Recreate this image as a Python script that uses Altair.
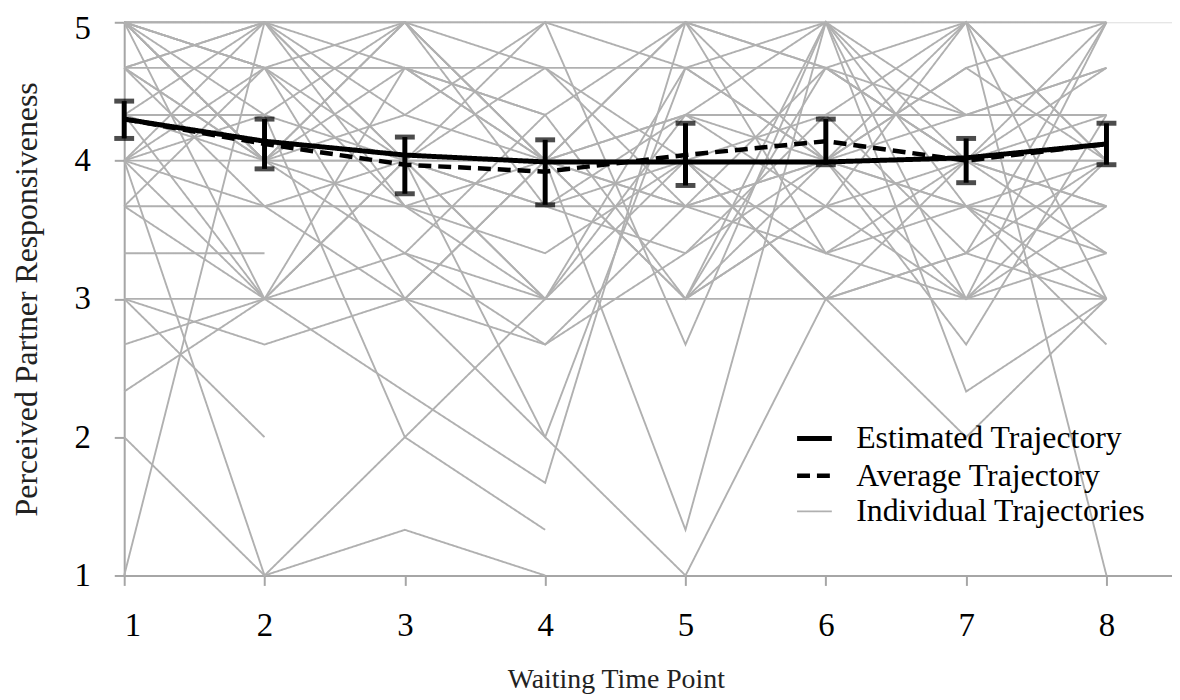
import altair as alt
import pandas as pd

# ---------------- data ----------------
time_points = [1, 2, 3, 4, 5, 6, 7, 8]

estimated = [4.30, 4.14, 4.04, 3.99, 3.99, 3.99, 4.02, 4.12]
average = [4.30, 4.12, 3.97, 3.92, 4.04, 4.14, 4.00, 4.12]
err_lo = [4.16, 3.94, 3.76, 3.68, 3.82, 3.97, 3.84, 3.97]
err_hi = [4.43, 4.30, 4.17, 4.15, 4.27, 4.30, 4.16, 4.27]

N = None
individuals = [
    [5, 5, 5, 5, 5, 5, 5, 5],
    [4, 4, 4, 4, 4, 4, 4, 4],
    [3, 3, 3, 3, 3, 3, 3, 3],
    [3.67, 3.67, 3.67, 3.67, 3.67, 3.67, 3.67, 3.67],
    [4.67, 4.67, 4.67, 4.67, 4.67, 4.67, 4.33, 4.33],
    [1, 5, 5, 4, 5, 4.67, 5, 1],
    [2, 1, 1.33, 1, N, N, N, N],
    [4, 1, 2, 3, 3, 4, 3.67, 4],
    [3, 2, N, N, N, N, N, N],
    [2.33, 3, 3, 2, 1, 3, 3.33, 3],
    [2.67, 3, 4, 3, 4.67, 5, 3, 4],
    [3.33, 3.33, N, N, N, N, N, N],
    [5, 4, 3.67, 4, 5, 3.33, 4, 5],
    [5, 4.67, 4, 3.67, 4.33, 5, 4.33, 4.67],
    [5, 3, 4, 2, 4.67, 4, 5, 4],
    [4.67, 4, 5, 4, 3, 4.67, 4, 3.33],
    [4.67, 5, 4, 4.67, 3.67, 4, 3, 3.67],
    [4.33, 4, 4.67, 4, 4.33, 4.33, 4.33, 4.33],
    [4.33, 3, 2.33, 1.67, 5, 4.67, 4, 3.67],
    [4, 3.67, 4, 3, 3, 5, 2.33, 3],
    [4, 4.67, 3.67, 3, 4.33, 4, 2.67, 4.33],
    [5, 4, 5, 4, 4, 3.33, 3.67, 2.67],
    [4.67, 3.67, 3, 4, 1.33, 5, 4, 4],
    [3.67, 4.67, 5, 4.67, 4, 3, 3.33, 5],
    [5, 5, 4.67, 4.33, 5, 4, 4.67, 5],
    [4, 5, 4, 4, 4.33, 3.67, 4, 4.67],
    [5, 4, 4, 5, 4.67, 4, 3.67, 3.33],
    [4.33, 4.33, 4, 3.67, 4, 4.33, 5, 4],
    [4.67, 4, 4.33, 4, 3.67, 4.67, 4, 4.33],
    [3, 2.67, 3, 4, 3.67, 3.33, 3, 3.33],
    [5, 4.67, 3, 2.67, 3.67, 4, 4.67, 4],
    [4, 3, 3.33, 3, 4, 3, 2, 3],
    [N, N, 3.33, 2.67, 3.33, 4, 4.33, 4.67],
    [5, 4.67, 4.67, 4.33, N, N, N, N],
    [5, 4.33, 2, 1.33, N, N, N, N],
    [4.67, 5, 4.33, 5, 2.67, 5, 3.67, 3],
    [5, 4, 3.33, 4.33, 3, 3.67, 3, 5],
    [4.33, 5, 3.67, 3.33, 4, 3, 4, 3.67],
    [4, 4.33, 5, 3.67, 3.33, 4.33, 3.33, 4],
    [3.67, 3, 4.67, 4, 3, 3.67, 5, 3],
]

series_names = ["Estimated Trajectory", "Average Trajectory", "Individual Trajectories"]

# ---------------- tables ----------------
ind_rows = []
for pid, traj in enumerate(individuals):
    for t, v in zip(time_points, traj):
        if v is not None:
            ind_rows.append({"id": pid, "t": t, "v": v, "series": series_names[2]})
ind_df = pd.DataFrame(ind_rows)

est_df = pd.DataFrame({"t": time_points, "v": estimated, "series": series_names[0]})
avg_df = pd.DataFrame({"t": time_points, "v": average, "series": series_names[1]})
err_df = pd.DataFrame({"t": time_points, "lo": err_lo, "hi": err_hi})

FONT = "Liberation Serif"
AXIS_GRAY = "#a6a6a6"
LINE_GRAY = "#b0b0b0"

x_scale = alt.Scale(domain=[1, 8.467], nice=False, zero=False)
y_scale = alt.Scale(domain=[1, 5], nice=False, zero=False)

x_axis = alt.Axis(
    values=time_points, title="Waiting Time Point", grid=False,
    domainColor=AXIS_GRAY, domainWidth=2, tickColor=AXIS_GRAY, tickWidth=2, tickSize=10,
    labelFont=FONT, labelFontSize=33, labelColor="black", labelPadding=24,
    titleFont=FONT, titleFontSize=28, titleFontWeight="normal", titleColor="#222222",
    titleX=495, titleAnchor="start", titleAlign="center",
    titleY=113, titleBaseline="alphabetic", format="d",
)
y_axis = alt.Axis(
    values=[1, 2, 3, 4, 5], title="Perceived Partner Responsiveness", grid=False,
    domainColor=AXIS_GRAY, domainWidth=2, tickColor=AXIS_GRAY, tickWidth=2, tickSize=10,
    labelFont=FONT, labelFontSize=33, labelColor="black", labelPadding=24,
    labelOffset={"condition": {"test": "datum.value == 5", "value": 6}, "value": 0},
    titleFont=FONT, titleFontSize=32, titleFontWeight="normal", titleColor="#222222",
    titleX=-88, titleBaseline="alphabetic", format="d",
)

color_scale = alt.Scale(domain=series_names, range=["black", "black", LINE_GRAY])
dash_scale = alt.Scale(domain=series_names, range=[[1, 0], [13, 7], [1, 0]])
width_scale = alt.Scale(type="ordinal", domain=series_names, range=[5, 4.5, 1.9])

legend = alt.Legend(
    title=None, orient="none", legendX=675, legendY=399,
    symbolType="stroke", symbolSize=1225, labelFont=FONT, labelFontSize=32,
    labelColor="black", labelOffset=22, rowPadding=1.5, padding=0, labelLimit=400,
)

def enc(base):
    return base.encode(
        x=alt.X("t:Q", scale=x_scale, axis=x_axis),
        y=alt.Y("v:Q", scale=y_scale, axis=y_axis),
        color=alt.Color("series:N", scale=color_scale, legend=legend),
        strokeDash=alt.StrokeDash("series:N", scale=dash_scale, legend=legend),
        strokeWidth=alt.StrokeWidth("series:N", scale=width_scale, legend=legend),
    )

ind_layer = enc(alt.Chart(ind_df).mark_line(strokeCap="butt")).encode(detail="id:N")
est_layer = enc(alt.Chart(est_df).mark_line(strokeCap="butt"))
avg_layer = enc(alt.Chart(avg_df).mark_line(strokeCap="butt"))

err_rule = alt.Chart(err_df).mark_rule(color="black", strokeWidth=5).encode(
    x=alt.X("t:Q", scale=x_scale), y=alt.Y("lo:Q", scale=y_scale), y2="hi:Q"
)
cap_lo = alt.Chart(err_df).mark_tick(color="black", thickness=5, size=20, orient="horizontal").encode(
    x=alt.X("t:Q", scale=x_scale), y=alt.Y("lo:Q", scale=y_scale)
)
cap_hi = alt.Chart(err_df).mark_tick(color="black", thickness=5, size=20, orient="horizontal").encode(
    x=alt.X("t:Q", scale=x_scale), y=alt.Y("hi:Q", scale=y_scale)
)

chart = alt.layer(ind_layer, est_layer, avg_layer, err_rule, cap_lo, cap_hi).properties(
    width=1055, height=557,
    autosize=alt.AutoSizeParams(type="none"),
    padding={"left": 117, "top": 12, "right": 0, "bottom": 122},
).configure_view(stroke=None).configure(background="white")

chart.save("out.html", embed_options={"renderer": "svg", "actions": False})
